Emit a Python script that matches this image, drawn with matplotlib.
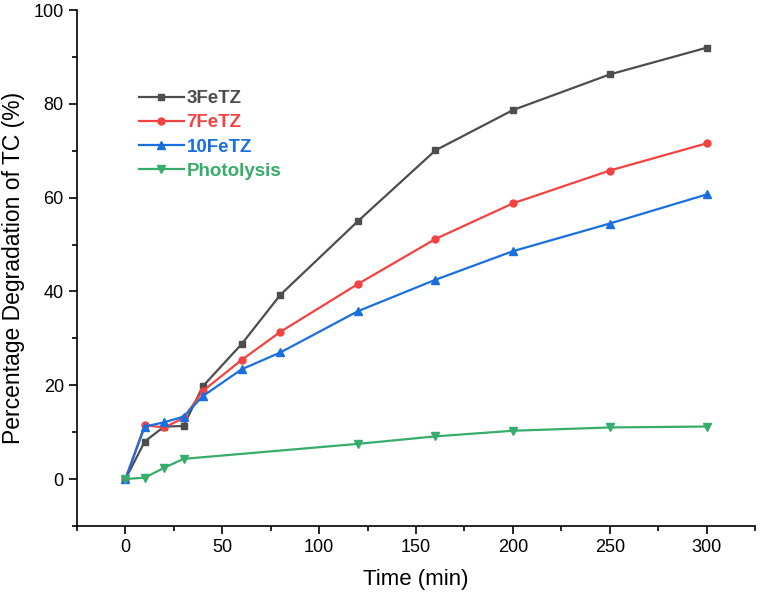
import matplotlib
matplotlib.use("Agg")
import matplotlib.pyplot as plt
from matplotlib.ticker import MultipleLocator

plt.rcParams['font.family'] = ['Liberation Sans', 'DejaVu Sans']

t = [0, 10, 20, 30, 40, 60, 80, 120, 160, 200, 250, 300]
fe3 = [0, 8.0, 11.2, 11.3, 19.8, 28.8, 39.3, 55.0, 70.1, 78.7, 86.3, 92.0]
fe7 = [0, 11.5, 11.0, 13.0, 18.8, 25.4, 31.4, 41.6, 51.2, 58.8, 65.8, 71.6]
fe10 = [0, 11.2, 12.1, 13.3, 17.7, 23.4, 27.0, 35.8, 42.5, 48.6, 54.5, 60.7]
t_photo = [0, 10, 20, 30, 120, 160, 200, 250, 300]
photo = [0, 0.3, 2.4, 4.3, 7.5, 9.1, 10.3, 11.0, 11.2]

fig = plt.figure(figsize=(7.62, 5.99), dpi=100)
ax = fig.add_axes([0.101, 0.122, 0.890, 0.861])

ax.plot(t, fe3, color="#4d4d4d", marker="s", markersize=5, lw=1.6, label="3FeTZ")
ax.plot(t, fe7, color="#f44242", marker="o", markersize=5, lw=1.6, label="7FeTZ")
ax.plot(t, fe10, color="#1a6fdf", marker="^", markersize=5.5, lw=1.6, label="10FeTZ")
ax.plot(t_photo, photo, color="#37ad6b", marker="v", markersize=5.5, lw=1.6, label="Photolysis")

ax.set_xlim(-25, 325)
ax.set_ylim(-10, 100)
ax.xaxis.set_major_locator(MultipleLocator(50))
ax.xaxis.set_minor_locator(MultipleLocator(25))
ax.yaxis.set_major_locator(MultipleLocator(20))
ax.yaxis.set_minor_locator(MultipleLocator(10))
ax.spines['top'].set_visible(False)
ax.spines['right'].set_visible(False)
ax.spines['left'].set_linewidth(1.2)
ax.spines['bottom'].set_linewidth(1.2)
ax.tick_params(which='major', direction='out', length=6, width=1.2, labelsize=13)
ax.tick_params(which='minor', direction='out', length=3.5, width=1.2)

ax.set_xlabel("Time (min)", fontsize=16, labelpad=9)
ax.set_ylabel("Percentage Degradation of TC (%)", fontsize=16.5, labelpad=6)

leg = ax.legend(loc='upper left', bbox_to_anchor=(0.066, 0.878), frameon=False,
                prop={'weight': 'bold', 'size': 13.5}, handlelength=2.4,
                handletextpad=0.15, labelspacing=0.38)
for text, line in zip(leg.get_texts(), leg.get_lines()):
    text.set_color(line.get_color())

fig.savefig("out.png", dpi=100)
